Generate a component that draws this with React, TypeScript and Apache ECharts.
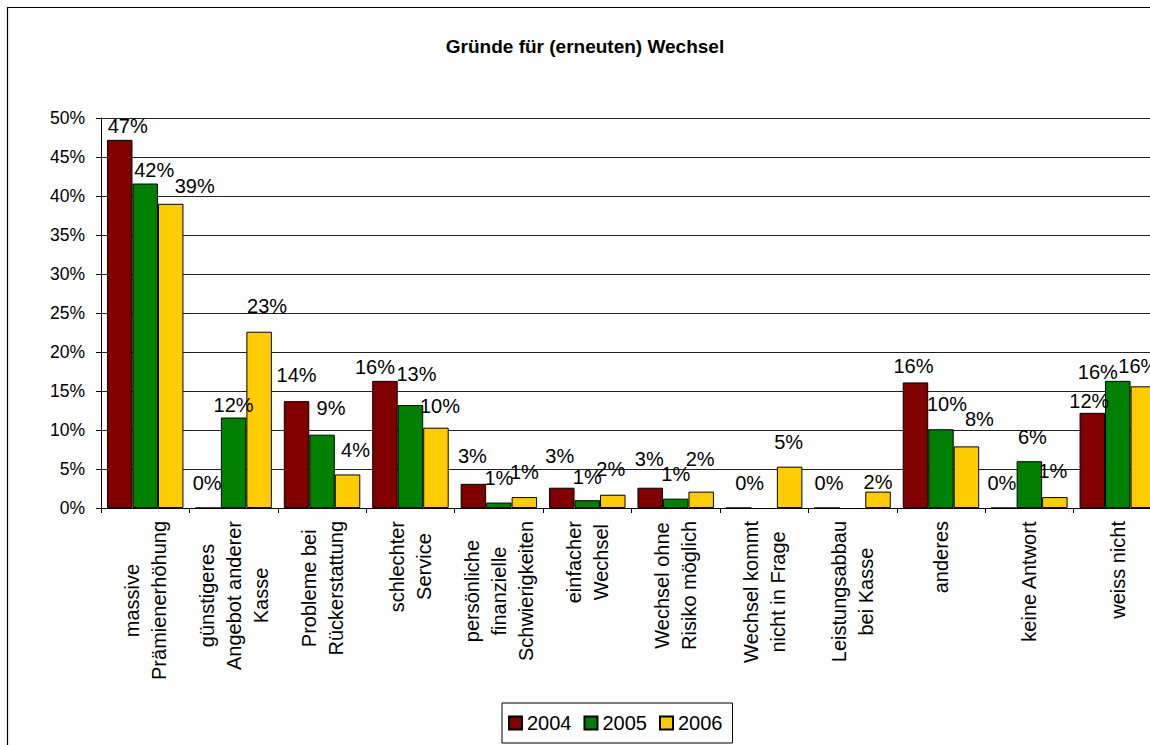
import React, { useEffect, useRef } from "react";
import * as echarts from "echarts";

const categories = [
  "massive\nPrämienerhöhung",
  "günstigeres\nAngebot anderer\nKasse",
  "Probleme bei\nRückerstattung",
  "schlechter\nService",
  "persönliche\nfinanzielle\nSchwierigkeiten",
  "einfacher\nWechsel",
  "Wechsel ohne\nRisiko möglich",
  "Wechsel kommt\nnicht in Frage",
  "Leistungsabbau\nbei Kasse",
  "anderes",
  "keine Antwort",
  "weiss nicht",
];

const seriesNames = ["2004", "2005", "2006"];

const values2004 = [47.2, 0, 13.7, 16.3, 3.1, 2.6, 2.6, 0, 0, 16.1, 0, 12.2];
const values2005 = [41.6, 11.6, 9.4, 13.2, 0.7, 1.0, 1.2, null, null, 10.1, 6.0, 16.3];
const values2006 = [39.0, 22.6, 4.3, 10.3, 1.4, 1.7, 2.1, 5.3, 2.1, 7.9, 1.4, 15.6];

// data-label nudges [dx, visible gap above bar] (label placement)
const labelNudge2004 = [[8, 7], [-1, 18], [0, 19], [-10, 7], [-1, 21], [-2, 25], [-1, 22], [11, 18], [2, 18], [-2, 9], [-2, 18], [-3, 5]];
const labelNudge2005 = [[9, 7], [0, 6], [9, 20], [6, 24], [0, 18], [0, 16], [0, 18], [0, 0], [0, 0], [6, 18], [3, 17], [-20, 2]];
const labelNudge2006 = [[24, 11], [8, 19], [8, 17], [4, 15], [0, 18], [-2, 19], [-1, 26], [-1, 18], [0, 3], [13, 20], [-2, 19], [-5, 13]];

const colors = ["#800000", "#008000", "#FFCC00"];

const FONT = "'Liberation Sans', Arial, Helvetica, sans-serif";

function buildData(vals: (number | null)[], nudges: number[][]) {
  return vals.map((v, i) => {
    if (v === null) return { value: null, label: { show: false } };
    const [dx, gap] = nudges[i];
    return { value: v, label: { offset: [dx, -(gap - 3)] } };
  });
}

export default function App() {
  const ref = useRef<HTMLDivElement>(null);
  useEffect(() => {
    if (!ref.current) return;
    const chart = echarts.init(ref.current, undefined, { renderer: "svg" });
    const allVals = [values2004, values2005, values2006];
    const allNudges = [labelNudge2004, labelNudge2005, labelNudge2006];
    chart.setOption({
      animation: false,
      backgroundColor: "#ffffff",
      textStyle: { fontFamily: FONT, color: "#000" },
      title: {
        text: "Gründe für (erneuten) Wechsel",
        left: 580,
        textAlign: "center",
        top: 32,
        textStyle: { fontFamily: FONT, fontSize: 19, fontWeight: "bold", color: "#000" },
      },
      graphic: [
        {
          type: "rect",
          shape: { x: 7.5, y: 7.5, width: 1400, height: 900 },
          style: { fill: "none", stroke: "#000", lineWidth: 1.2 },
          silent: true,
          z: -10,
        },
      ],
      legend: {
        left: 502,
        top: 703,
        orient: "horizontal",
        icon: "rect",
        itemWidth: 13,
        itemHeight: 13,
        itemGap: 12,
        borderColor: "#000",
        borderWidth: 1,
        padding: [10, 10, 10, 6],
        textStyle: { fontFamily: FONT, fontSize: 20, color: "#000" },
        data: seriesNames,
      },
      grid: { left: 101, top: 118, width: 1061, height: 390, containLabel: false },
      xAxis: {
        type: "category",
        data: categories,
        axisLine: { show: true, lineStyle: { color: "#000", width: 1 } },
        axisTick: { show: true, length: 5, lineStyle: { color: "#000" } },
        axisLabel: {
          interval: 0,
          rotate: 90,
          margin: 13,
          formatter: (v: string) => v.split("\n").map((l) => `{c|${l}}`).join("\n"),
          rich: {
            c: { align: "center", fontFamily: FONT, fontSize: 20, lineHeight: 27, color: "#000" },
          },
        },
      },
      yAxis: {
        type: "value",
        min: 0,
        max: 50,
        interval: 5,
        axisLine: { show: true, lineStyle: { color: "#000", width: 1 } },
        axisTick: { show: true, length: 5, lineStyle: { color: "#000" } },
        axisLabel: { formatter: "{value}%", fontFamily: FONT, fontSize: 17.5, color: "#000", margin: 16 },
        splitLine: { show: true, lineStyle: { color: "#222", width: 1 } },
      },
      series: seriesNames.map((name, si) => ({
        name,
        type: "bar",
        barGap: "0%",
        barCategoryGap: "13.5%",
        itemStyle: { color: colors[si], borderColor: "#000", borderWidth: 1 },
        label: {
          show: true,
          position: "top",
          distance: 0,
          fontFamily: FONT,
          fontSize: 20,
          color: "#000",
          formatter: (p: any) => Math.round(p.value) + "%",
        },
        data: buildData(allVals[si], allNudges[si]),
      })),
    });
    return () => chart.dispose();
  }, []);
  return (
    <div style={{ position: "fixed", left: 0, top: 0, width: 1150, height: 745, overflow: "hidden", background: "#fff" }}>
      <div ref={ref} style={{ width: 1200, height: 760 }} />
    </div>
  );
}
